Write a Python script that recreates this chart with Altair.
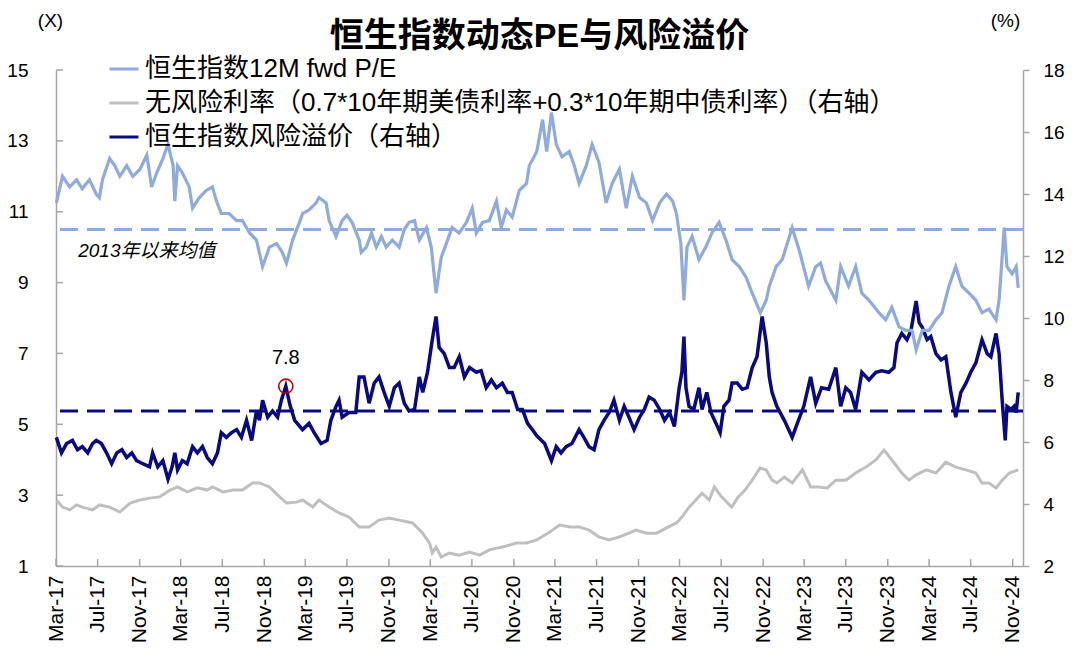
import altair as alt
import pandas as pd

FONT = "'Liberation Sans', 'Noto Sans CJK SC', sans-serif"
AXIS_GRAY = "#A6A6A6"

chart_title = "恒生指数动态PE与风险溢价"
left_unit = "(X)"
right_unit = "(%)"
series_names = [
    "恒生指数12M fwd P/E",
    "无风险利率（0.7*10年期美债利率+0.3*10年期中债利率）（右轴）",
    "恒生指数风险溢价（右轴）",
]
series_colors = ["#8FAADC", "#BFBFBF", "#0A0A80"]

pe_points = [
    ("2017-03-02", 11.25), ("2017-03-20", 12.0), ("2017-04-10", 11.7), ("2017-04-30", 11.9),
    ("2017-05-17", 11.65), ("2017-06-07", 11.9), ("2017-06-27", 11.5), ("2017-07-06", 11.4),
    ("2017-07-15", 11.9), ("2017-08-05", 12.5), ("2017-08-20", 12.3), ("2017-09-04", 12.0),
    ("2017-09-24", 12.3), ("2017-10-12", 12.0), ("2017-11-02", 12.2), ("2017-11-22", 12.6),
    ("2017-12-06", 11.7), ("2017-12-21", 12.1), ("2018-01-08", 12.5), ("2018-01-23", 12.9),
    ("2018-02-07", 12.3), ("2018-02-12", 11.3), ("2018-02-20", 12.3), ("2018-03-06", 12.1),
    ("2018-03-26", 11.7), ("2018-04-05", 11.1), ("2018-04-25", 11.4), ("2018-05-15", 11.6),
    ("2018-06-02", 11.7), ("2018-06-14", 11.3), ("2018-06-28", 10.95), ("2018-07-21", 10.95),
    ("2018-08-12", 10.75), ("2018-08-29", 10.75), ("2018-09-19", 10.4), ("2018-10-09", 10.2),
    ("2018-10-27", 9.45), ("2018-11-16", 10.0), ("2018-12-07", 10.1), ("2018-12-24", 9.85),
    ("2019-01-05", 9.55), ("2019-01-23", 10.2), ("2019-02-12", 10.7), ("2019-02-21", 10.95),
    ("2019-03-12", 11.05), ("2019-04-02", 11.25), ("2019-04-10", 11.4), ("2019-05-01", 11.25),
    ("2019-05-10", 10.75), ("2019-05-30", 10.3), ("2019-06-17", 10.75), ("2019-07-01", 10.9),
    ("2019-07-16", 10.7), ("2019-08-06", 10.2), ("2019-08-12", 9.85), ("2019-08-27", 10.0),
    ("2019-09-11", 10.4), ("2019-09-25", 10.0), ("2019-10-10", 10.3), ("2019-10-24", 10.0),
    ("2019-11-11", 10.2), ("2019-12-01", 10.0), ("2019-12-16", 10.5), ("2019-12-30", 10.7),
    ("2020-01-15", 10.75), ("2020-01-29", 10.2), ("2020-02-19", 10.55), ("2020-03-04", 10.0),
    ("2020-03-18", 8.7), ("2020-04-02", 9.7), ("2020-04-17", 10.1), ("2020-05-04", 10.55),
    ("2020-05-25", 10.4), ("2020-06-15", 10.7), ("2020-07-02", 11.1), ("2020-07-14", 10.4),
    ("2020-08-01", 10.7), ("2020-08-21", 10.75), ("2020-09-11", 11.3), ("2020-09-25", 10.55),
    ("2020-10-10", 11.05), ("2020-10-27", 10.85), ("2020-11-17", 11.6), ("2020-12-08", 11.8),
    ("2020-12-16", 12.3), ("2021-01-07", 12.7), ("2021-01-24", 13.6), ("2021-02-05", 12.7),
    ("2021-02-19", 13.8), ("2021-03-05", 12.9), ("2021-03-22", 12.55), ("2021-04-12", 12.7),
    ("2021-04-27", 12.3), ("2021-05-11", 11.8), ("2021-06-01", 12.3), ("2021-06-18", 12.9),
    ("2021-07-08", 12.4), ("2021-07-29", 11.25), ("2021-08-16", 11.8), ("2021-09-06", 12.2),
    ("2021-09-26", 11.1), ("2021-10-14", 12.0), ("2021-11-04", 11.4), ("2021-11-24", 11.25),
    ("2021-12-12", 10.75), ("2022-01-02", 11.25), ("2022-01-22", 11.5), ("2022-02-09", 11.3),
    ("2022-02-20", 10.95), ("2022-03-05", 10.1), ("2022-03-14", 8.5), ("2022-03-23", 10.0),
    ("2022-04-07", 10.3), ("2022-04-27", 9.65), ("2022-05-17", 10.0), ("2022-06-04", 10.4),
    ("2022-06-25", 10.7), ("2022-07-15", 10.2), ("2022-08-02", 9.65), ("2022-08-23", 9.45),
    ("2022-09-12", 9.15), ("2022-09-30", 8.7), ("2022-10-24", 8.15), ("2022-11-10", 8.5),
    ("2022-11-19", 8.9), ("2022-12-09", 9.45), ("2022-12-27", 9.65), ("2023-01-25", 10.55),
    ("2023-02-15", 9.9), ("2023-03-14", 8.9), ("2023-04-04", 9.45), ("2023-04-18", 9.55),
    ("2023-05-03", 9.05), ("2023-06-02", 8.5), ("2023-06-16", 9.45), ("2023-07-09", 8.9),
    ("2023-07-30", 9.45), ("2023-08-17", 8.7), ("2023-09-07", 8.5), ("2023-10-06", 8.15),
    ("2023-10-26", 7.95), ("2023-11-13", 8.3), ("2023-12-04", 7.75), ("2023-12-24", 7.65),
    ("2024-01-11", 7.65), ("2024-01-23", 7.1), ("2024-02-10", 7.65), ("2024-03-01", 7.65),
    ("2024-03-21", 7.95), ("2024-04-08", 8.15), ("2024-04-28", 8.9), ("2024-05-18", 9.45),
    ("2024-06-05", 8.9), ("2024-06-26", 8.7), ("2024-07-16", 8.5), ("2024-08-03", 8.15),
    ("2024-08-23", 8.25), ("2024-09-13", 7.95), ("2024-09-22", 8.5), ("2024-10-07", 10.55),
    ("2024-10-15", 9.45), ("2024-10-30", 9.25), ("2024-11-11", 9.45), ("2024-11-17", 8.85),
]

rf_points = [
    ("2017-03-02", 4.13), ("2017-03-20", 3.9), ("2017-04-10", 3.81), ("2017-04-30", 3.97),
    ("2017-05-17", 3.9), ("2017-06-16", 3.81), ("2017-07-06", 3.97), ("2017-08-05", 3.9),
    ("2017-09-04", 3.74), ("2017-10-04", 4.03), ("2017-11-02", 4.13), ("2017-11-30", 4.19),
    ("2017-12-30", 4.23), ("2018-01-29", 4.45), ("2018-02-20", 4.55), ("2018-03-20", 4.39),
    ("2018-04-19", 4.52), ("2018-05-18", 4.45), ("2018-06-02", 4.55), ("2018-07-03", 4.39),
    ("2018-08-02", 4.45), ("2018-08-29", 4.45), ("2018-09-28", 4.68), ("2018-10-18", 4.68),
    ("2018-11-16", 4.55), ("2018-12-16", 4.23), ("2019-01-05", 4.03), ("2019-02-04", 4.06),
    ("2019-02-21", 4.13), ("2019-03-23", 3.9), ("2019-04-10", 4.13), ("2019-05-10", 3.9),
    ("2019-06-08", 3.71), ("2019-07-07", 3.58), ("2019-08-06", 3.26), ("2019-09-04", 3.26),
    ("2019-10-03", 3.48), ("2019-11-02", 3.55), ("2019-12-01", 3.48), ("2020-01-09", 3.39),
    ("2020-02-08", 3.06), ("2020-02-28", 2.74), ("2020-03-07", 2.42), ("2020-03-18", 2.61),
    ("2020-04-02", 2.29), ("2020-04-26", 2.42), ("2020-05-25", 2.35), ("2020-06-24", 2.45),
    ("2020-07-24", 2.35), ("2020-08-21", 2.52), ("2020-09-28", 2.61), ("2020-11-09", 2.74),
    ("2020-12-08", 2.74), ("2021-01-07", 2.84), ("2021-02-14", 3.1), ("2021-03-15", 3.32),
    ("2021-04-15", 3.26), ("2021-05-11", 3.26), ("2021-06-09", 3.16), ("2021-07-08", 2.94),
    ("2021-08-07", 2.84), ("2021-09-06", 2.94), ("2021-10-04", 3.06), ("2021-10-25", 3.16),
    ("2021-11-24", 3.06), ("2021-12-24", 3.06), ("2022-01-22", 3.23), ("2022-02-20", 3.39),
    ("2022-03-08", 3.58), ("2022-03-29", 3.9), ("2022-04-18", 4.13), ("2022-05-06", 4.35),
    ("2022-05-27", 4.13), ("2022-06-11", 4.55), ("2022-07-02", 4.23), ("2022-08-01", 3.9),
    ("2022-08-20", 4.23), ("2022-09-09", 4.45), ("2022-09-30", 4.77), ("2022-10-23", 5.16),
    ("2022-11-10", 5.1), ("2022-11-27", 4.77), ("2022-12-11", 4.68), ("2023-01-02", 4.87),
    ("2023-01-25", 4.68), ("2023-02-24", 5.1), ("2023-03-20", 4.55), ("2023-04-13", 4.55),
    ("2023-05-08", 4.52), ("2023-06-02", 4.77), ("2023-07-01", 4.77), ("2023-07-30", 5.0),
    ("2023-08-29", 5.19), ("2023-09-27", 5.42), ("2023-10-21", 5.74), ("2023-11-13", 5.42),
    ("2023-12-12", 5.0), ("2024-01-02", 4.77), ("2024-01-23", 4.94), ("2024-02-22", 5.1),
    ("2024-03-21", 5.0), ("2024-04-19", 5.35), ("2024-05-18", 5.19), ("2024-06-17", 5.1),
    ("2024-07-16", 5.0), ("2024-08-03", 4.68), ("2024-08-23", 4.68), ("2024-09-13", 4.52),
    ("2024-10-01", 4.77), ("2024-10-22", 5.0), ("2024-11-17", 5.1),
]

erp_points = [
    ("2017-03-02", 6.15), ("2017-03-17", 5.65), ("2017-04-01", 5.95), ("2017-04-18", 6.05),
    ("2017-05-03", 5.75), ("2017-05-17", 5.85), ("2017-06-02", 5.65), ("2017-06-16", 5.95),
    ("2017-06-27", 6.05), ("2017-07-12", 5.95), ("2017-07-27", 5.65), ("2017-08-11", 5.3),
    ("2017-08-26", 5.65), ("2017-09-10", 5.75), ("2017-09-24", 5.5), ("2017-10-09", 5.65),
    ("2017-10-23", 5.4), ("2017-11-10", 5.3), ("2017-11-30", 5.2), ("2017-12-09", 5.65),
    ("2017-12-24", 5.2), ("2018-01-08", 5.4), ("2018-01-23", 4.8), ("2018-02-04", 5.2),
    ("2018-02-12", 5.65), ("2018-02-20", 5.1), ("2018-03-06", 5.4), ("2018-03-20", 5.3),
    ("2018-04-05", 5.85), ("2018-04-19", 5.65), ("2018-05-04", 5.85), ("2018-05-18", 5.5),
    ("2018-06-02", 5.3), ("2018-06-17", 5.65), ("2018-06-28", 6.3), ("2018-07-13", 6.15),
    ("2018-07-28", 6.3), ("2018-08-12", 6.4), ("2018-08-26", 6.15), ("2018-09-10", 6.7),
    ("2018-09-25", 6.05), ("2018-10-09", 7.0), ("2018-10-18", 6.7), ("2018-10-27", 7.35),
    ("2018-11-11", 6.8), ("2018-11-25", 7.0), ("2018-12-10", 6.8), ("2018-12-21", 7.35),
    ("2019-01-03", 7.8), ("2019-01-15", 7.2), ("2019-01-29", 6.7), ("2019-02-21", 6.4),
    ("2019-03-12", 6.6), ("2019-03-27", 6.3), ("2019-04-16", 5.95), ("2019-05-04", 6.05),
    ("2019-05-15", 6.7), ("2019-05-30", 7.15), ("2019-06-08", 7.35), ("2019-06-17", 6.8),
    ("2019-07-07", 6.95), ("2019-07-27", 6.95), ("2019-08-06", 8.1), ("2019-08-20", 8.1),
    ("2019-09-04", 7.25), ("2019-09-19", 7.9), ("2019-10-03", 8.1), ("2019-10-18", 7.6),
    ("2019-11-02", 7.15), ("2019-11-17", 7.75), ("2019-12-01", 7.9), ("2019-12-16", 7.25),
    ("2019-12-30", 7.0), ("2020-01-15", 7.05), ("2020-01-29", 8.1), ("2020-02-08", 7.6),
    ("2020-02-22", 8.25), ("2020-03-07", 9.3), ("2020-03-18", 10.05), ("2020-03-27", 9.05),
    ("2020-04-11", 8.85), ("2020-04-26", 8.4), ("2020-05-10", 8.4), ("2020-05-25", 8.75),
    ("2020-06-09", 8.1), ("2020-06-24", 8.4), ("2020-07-14", 8.25), ("2020-07-28", 8.3),
    ("2020-08-12", 7.75), ("2020-08-27", 8.0), ("2020-09-11", 7.75), ("2020-09-28", 7.9),
    ("2020-10-13", 7.6), ("2020-10-27", 7.6), ("2020-11-12", 7.05), ("2020-11-26", 7.05),
    ("2020-12-11", 6.6), ("2020-12-25", 6.4), ("2021-01-07", 6.2), ("2021-01-30", 5.95),
    ("2021-02-19", 5.4), ("2021-03-05", 5.85), ("2021-03-19", 5.65), ("2021-04-03", 5.85),
    ("2021-04-20", 5.95), ("2021-05-11", 6.4), ("2021-05-25", 6.15), ("2021-06-09", 5.85),
    ("2021-06-24", 5.75), ("2021-07-08", 6.4), ("2021-07-23", 6.7), ("2021-08-07", 6.95),
    ("2021-08-21", 7.35), ("2021-09-06", 6.7), ("2021-09-20", 7.15), ("2021-10-04", 6.8),
    ("2021-10-19", 6.4), ("2021-11-04", 6.8), ("2021-11-18", 7.05), ("2021-12-02", 7.45),
    ("2021-12-17", 7.35), ("2022-01-02", 7.05), ("2022-01-16", 6.7), ("2022-01-31", 6.95),
    ("2022-02-14", 6.5), ("2022-02-28", 7.75), ("2022-03-08", 8.25), ("2022-03-14", 9.4),
    ("2022-03-20", 7.75), ("2022-03-29", 7.15), ("2022-04-12", 7.05), ("2022-04-27", 7.75),
    ("2022-05-06", 7.05), ("2022-05-20", 7.6), ("2022-06-01", 6.95), ("2022-06-16", 6.6),
    ("2022-06-28", 6.3), ("2022-07-09", 7.15), ("2022-07-24", 7.35), ("2022-08-02", 7.9),
    ("2022-08-17", 7.9), ("2022-09-01", 7.7), ("2022-09-15", 7.75), ("2022-09-30", 8.4),
    ("2022-10-14", 8.75), ("2022-10-29", 10.05), ("2022-11-10", 9.2), ("2022-11-19", 8.1),
    ("2022-11-27", 7.6), ("2022-12-11", 7.15), ("2023-01-02", 6.7), ("2023-01-25", 6.15),
    ("2023-02-09", 6.6), ("2023-02-28", 7.15), ("2023-03-20", 8.1), ("2023-04-04", 7.25),
    ("2023-04-21", 7.75), ("2023-05-12", 7.7), ("2023-06-02", 8.4), ("2023-06-16", 7.15),
    ("2023-07-01", 7.75), ("2023-07-15", 7.6), ("2023-07-30", 7.05), ("2023-08-17", 8.25),
    ("2023-09-07", 8.0), ("2023-09-27", 8.25), ("2023-10-14", 8.3), ("2023-11-04", 8.25),
    ("2023-11-19", 8.4), ("2023-11-28", 9.2), ("2023-12-12", 9.5), ("2023-12-27", 9.3),
    ("2024-01-08", 9.6), ("2024-01-23", 10.55), ("2024-02-01", 9.85), ("2024-02-10", 9.7),
    ("2024-02-24", 9.3), ("2024-03-06", 9.4), ("2024-03-21", 8.85), ("2024-04-05", 8.65),
    ("2024-04-19", 8.75), ("2024-05-04", 7.6), ("2024-05-18", 6.8), ("2024-06-02", 7.6),
    ("2024-06-17", 7.9), ("2024-07-01", 8.25), ("2024-07-16", 8.55), ("2024-08-03", 9.3),
    ("2024-08-18", 8.85), ("2024-08-29", 8.75), ("2024-09-13", 9.5), ("2024-09-22", 8.85),
    ("2024-10-01", 7.35), ("2024-10-10", 6.05), ("2024-10-15", 7.15), ("2024-10-27", 7.05),
    ("2024-11-05", 7.15), ("2024-11-11", 6.95), ("2024-11-17", 7.6),
]

pe_mean = 10.5
erp_mean = 7.0
mean_label = "2013年以来均值"
mean_label_at = ("2017-05-05", 9.9)
peak_at = ("2019-01-03", 7.8)
peak_label = "7.8"

left_ticks = [1, 3, 5, 7, 9, 11, 13, 15]
right_ticks = [2, 4, 6, 8, 10, 12, 14, 16, 18]
x_tick_dates = [
    "2017-03-01", "2017-07-01", "2017-11-01", "2018-03-01", "2018-07-01", "2018-11-01",
    "2019-03-01", "2019-07-01", "2019-11-01", "2020-03-01", "2020-07-01", "2020-11-01",
    "2021-03-01", "2021-07-01", "2021-11-01", "2022-03-01", "2022-07-01", "2022-11-01",
    "2023-03-01", "2023-07-01", "2023-11-01", "2024-03-01", "2024-07-01", "2024-11-01",
]
x_domain = ("2017-03-01", "2024-12-01")


def to_dt(s):
    return alt.DateTime(year=int(s[:4]), month=int(s[5:7]), date=int(s[8:10]))


def frame(points, name):
    return pd.DataFrame({
        "date": pd.to_datetime([p[0] for p in points]),
        "value": [p[1] for p in points],
        "series": name,
    })


pe_df = frame(pe_points, series_names[0])
rf_df = frame(rf_points, series_names[1])
erp_df = frame(erp_points, series_names[2])

x_axis = alt.Axis(
    values=[to_dt(d) for d in x_tick_dates], format="%b-%y", labelAngle=270,
    labelFont=FONT, labelFontSize=21, labelColor="black", labelPadding=9,
    labelFlush=False, labelOverlap=False, ticks=False, tickSize=0,
    domainColor=AXIS_GRAY, domainWidth=1.5, grid=False, title=None,
)
axis_left = alt.Axis(
    orient="left", values=left_ticks, ticks=False, tickSize=0, labelPadding=28,
    labelFont=FONT, labelFontSize=19, labelColor="black",
    domainColor=AXIS_GRAY, domainWidth=1.5, grid=False,
    title=left_unit, titleAngle=0, titleX=-6, titleY=-50, titleAlign="center",
    titleBaseline="middle", titleFont=FONT, titleFontSize=19,
    titleFontWeight="normal", titleColor="black",
)
axis_right = alt.Axis(
    orient="right", values=right_ticks, tickSize=6, tickColor=AXIS_GRAY, tickWidth=1.5,
    labelPadding=14, labelFont=FONT, labelFontSize=19, labelColor="black",
    domainColor=AXIS_GRAY, domainWidth=1.5, grid=False,
    title=right_unit, titleAngle=0, titleX=-18, titleY=-50, titleAlign="center",
    titleBaseline="middle", titleFont=FONT, titleFontSize=19,
    titleFontWeight="normal", titleColor="black",
)


def x_enc(field):
    return alt.X(f"{field}:T", scale=alt.Scale(domain=[to_dt(x_domain[0]), to_dt(x_domain[1])]),
                 axis=x_axis)


def y_left(field):
    return alt.Y(f"{field}:Q", scale=alt.Scale(domain=[1, 15], nice=False, zero=False), axis=axis_left)


def y_right(field):
    return alt.Y(f"{field}:Q", scale=alt.Scale(domain=[2, 18], nice=False, zero=False), axis=axis_right)


color_enc = alt.Color(
    "series:N",
    scale=alt.Scale(domain=series_names, range=series_colors),
    legend=alt.Legend(
        orient="none", legendX=52, legendY=-17, title=None, direction="vertical",
        symbolType="stroke", symbolSize=841, symbolStrokeWidth=3,
        labelFont=FONT, labelFontSize=26, labelColor="black", labelLimit=2000,
        labelOffset=5, rowPadding=5, padding=0,
    ),
)

# ---- right-axis group ----
rf_line = alt.Chart(rf_df).mark_line(strokeWidth=3).encode(
    x=x_enc("date"), y=y_right("value"), color=color_enc)
erp_line = alt.Chart(erp_df).mark_line(strokeWidth=3.5).encode(
    x=x_enc("date"), y=y_right("value"), color=color_enc)
erp_mean_rule = alt.Chart(pd.DataFrame({"v": [erp_mean]})).mark_rule(
    color=series_colors[2], strokeWidth=3, strokeDash=[18, 9]).encode(y=y_right("v"))
peak_df = pd.DataFrame({"date": pd.to_datetime([peak_at[0]]), "v": [peak_at[1]], "label": [peak_label]})
peak_circle = alt.Chart(peak_df).mark_point(
    shape="circle", size=200, filled=False, color="#C00000", strokeWidth=1.6, opacity=1
).encode(x=x_enc("date"), y=y_right("v"))
peak_text = alt.Chart(peak_df).mark_text(
    dy=-28, font=FONT, fontSize=20, color="black").encode(
    x=x_enc("date"), y=y_right("v"), text="label:N")
right_group = alt.layer(rf_line, erp_line, erp_mean_rule, peak_circle, peak_text)

# ---- left-axis group ----
pe_mean_rule = alt.Chart(pd.DataFrame({"v": [pe_mean]})).mark_rule(
    color=series_colors[0], strokeWidth=3, strokeDash=[18, 9]).encode(y=y_left("v"))
mean_text = alt.Chart(pd.DataFrame({
    "date": pd.to_datetime([mean_label_at[0]]), "v": [mean_label_at[1]], "label": [mean_label]
})).mark_text(align="left", baseline="middle", font=FONT, fontSize=19, fontStyle="italic",
              color="black").encode(x=x_enc("date"), y=y_left("v"), text="label:N")
left_tick_marks = alt.Chart(pd.DataFrame({"v": left_ticks})).mark_rule(
    color=AXIS_GRAY, strokeWidth=1.5).encode(y=y_left("v"), x=alt.value(0), x2=alt.value(7))
bottom_tick_marks = alt.Chart(pd.DataFrame({"d": pd.to_datetime(x_tick_dates)})).mark_rule(
    color=AXIS_GRAY, strokeWidth=1.5).encode(x=x_enc("d"), y=alt.value(496), y2=alt.value(489))
pe_line = alt.Chart(pe_df).mark_line(strokeWidth=3.2).encode(
    x=x_enc("date"), y=y_left("value"), color=color_enc)
left_group = alt.layer(pe_mean_rule, mean_text, left_tick_marks, bottom_tick_marks, pe_line)

chart = alt.layer(right_group, left_group).resolve_scale(y="independent").properties(
    width=967, height=496,
    title=alt.TitleParams(text=chart_title, font=FONT, fontSize=34, fontWeight="bold",
                          anchor="middle", frame="group", offset=-77, color="black",
                          baseline="bottom"),
    autosize=alt.AutoSizeParams(type="none"),
    padding={"left": 48, "top": 62, "right": 49, "bottom": 88},
).configure_view(strokeWidth=0)

chart.save("out.html", embed_options={"renderer": "svg", "actions": False})
